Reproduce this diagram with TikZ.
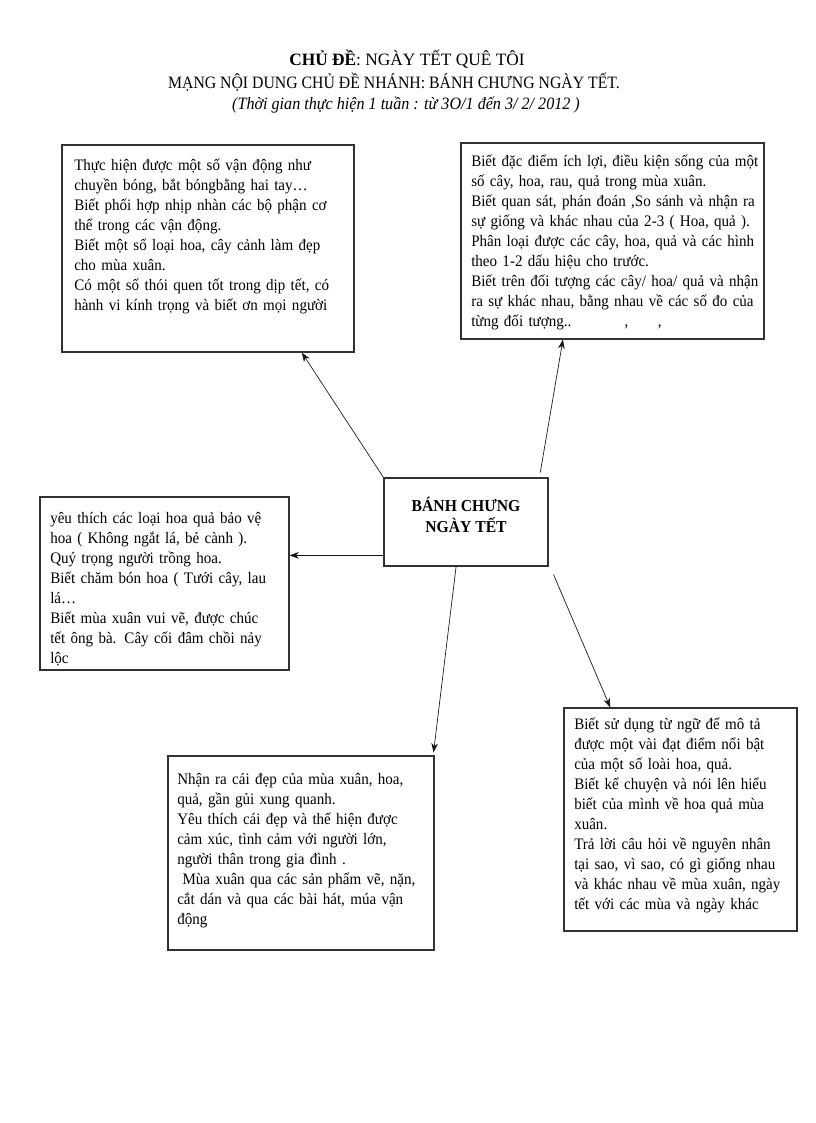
\documentclass[tikz,border=0pt]{standalone}
\usepackage{fontspec}
\setmainfont{Liberation Serif}
\newfontfamily\boxserif[FakeStretch=0.94]{Liberation Serif}
\newfontfamily\narrowserif[FakeStretch=0.91]{Liberation Serif}
\newfontfamily\italicserif[FakeStretch=0.93]{Liberation Serif}
\usepackage{tikz}
\usetikzlibrary{arrows.meta, positioning, calc, fit}
\definecolor{mydark}{RGB}{20,20,20}
\definecolor{myline}{RGB}{50,50,50}
\newcommand{\boxfont}{\boxserif\fontsize{12}{15}\selectfont}
\tikzset{
  infobox/.style={rectangle, draw=myline, line width=0.8pt, inner sep=0pt},
  boxtext/.style={anchor=north west, inner sep=0pt, align=left,
    text width=#1, font=\boxfont},
  hubbox/.style={rectangle, draw=myline, line width=0.8pt, inner sep=0pt,
    align=center, font=\boxserif\fontsize{12.5}{16}\selectfont\bfseries},
  titletext/.style={anchor=base, inner sep=0pt, font=\fontsize{13}{15}\selectfont},
  arrow/.style={-{Stealth[length=7pt, width=5pt]}, line width=0.5pt, color=mydark}
}

\begin{document}
\begin{tikzpicture}[x=0.75pt, y=-0.75pt]
  \useasboundingbox (0,0) rectangle (816,1123);

  % Title
  \node[titletext] (tieude) at (407,66) {\textbf{CHỦ ĐỀ}: NGÀY TẾT QUÊ TÔI};
  \node[titletext, font=\narrowserif\fontsize{13}{15}\selectfont] (nhanh) at (394,89)
    {MẠNG NỘI DUNG CHỦ ĐỀ NHÁNH: BÁNH CHƯNG NGÀY TẾT.};
  \node[titletext, font=\italicserif\fontsize{13}{15}\selectfont\itshape] (thoigian) at (406,110)
    {(Thời gian thực hiện 1 tuần : từ 3O/1 đến 3/ 2/ 2012 )};

  % Hub
  \node[hubbox, fit={(384,478) (548,566)}] (chude) {BÁNH CHƯNG\\NGÀY TẾT};

  % Boxes
  \node[infobox, fit={(62,145) (354,352)}] (thechat) {};
  \node[boxtext=280pt] (txtthechat) at (74,159) {Thực hiện được một số vận động như\\
    chuyền bóng, bắt bóngbằng hai tay…\\
    Biết phối hợp nhịp nhàn các bộ phận cơ\\
    thể trong các vận động.\\
    Biết một số loại hoa, cây cảnh làm đẹp\\
    cho mùa xuân.\\
    Có một số thói quen tốt trong dịp tết, có\\
    hành vi kính trọng và biết ơn mọi người};

  \node[infobox, fit={(461,143) (764,339)}] (nhanthuc) {};
  \node[boxtext=290pt] (txtnhanthuc) at (471,155) {Biết đặc điểm ích lợi, điều kiện sống của một\\
    số cây, hoa, rau, quả trong mùa xuân.\\
    Biết quan sát, phán đoán ,So sánh và nhận ra\\
    sự giống và khác nhau của 2-3 ( Hoa, quả ).\\
    Phân loại được các cây, hoa, quả và các hình\\
    theo 1-2 dấu hiệu cho trước.\\
    Biết trên đối tượng các cây/ hoa/ quả và nhận\\
    ra sự khác nhau, bằng nhau về các số đo của\\
    từng đối tượng..\hspace{40pt},\hspace{22pt},};

  \node[infobox, fit={(40,497) (289,670)}] (tinhcam) {};
  \node[boxtext=240pt] (txttinhcam) at (50,512) {yêu thích các loại hoa quả bảo vệ\\
    hoa ( Không ngắt lá, bẻ cành ).\\
    Quý trọng người trồng hoa.\\
    Biết chăm bón hoa ( Tưới cây, lau\\
    lá…\\
    Biết mùa xuân vui vẽ, được chúc\\
    tết ông bà. Cây cối đâm chồi nảy\\
    lộc};

  \node[infobox, fit={(168,756) (434,950)}] (thammy) {};
  \node[boxtext=250pt] (txtthammy) at (177,773) {Nhận ra cái đẹp của mùa xuân, hoa,\\
    quả, gần gủi xung quanh.\\
    Yêu thích cái đẹp và thể hiện được\\
    cảm xúc, tình cảm với người lớn,\\
    người thân trong gia đình .\\
    \ Mùa xuân qua các sản phẩm vẽ, nặn,\\
    cắt dán và qua các bài hát, múa vận\\
    động};

  \node[infobox, fit={(564,708) (797,931)}] (ngonngu) {};
  \node[boxtext=220pt] (txtngonngu) at (574,718) {Biết sử dụng từ ngữ để mô tả\\
    được một vài đạt điểm nổi bật\\
    của một số loài hoa, quả.\\
    Biết kể chuyện và nói lên hiểu\\
    biết của mình về hoa quả mùa\\
    xuân.\\
    Trả lời câu hỏi về nguyên nhân\\
    tại sao, vì sao, có gì giống nhau\\
    và khác nhau về mùa xuân, ngày\\
    tết với các mùa và ngày khác};

  % Arrows
  \coordinate (lft) at ($(chude.north west)!0.875!(chude.south west)$);
  \draw[arrow] (chude.north west) -- ($(thechat.south west)!0.82!(thechat.south east)$);
  \draw[arrow] ($(chude.north west)!0.95!(chude.north east)+(0,-5)$) -- ($(nhanthuc.south west)!0.337!(nhanthuc.south east)$);
  \draw[arrow] (lft) -- (lft -| tinhcam.east);
  \draw[arrow] ($(chude.south west)!0.44!(chude.south east)$) -- ($(thammy.north east)+(-1,-3)$);
  \draw[arrow] ($(chude.south east)+(5,8)$) -- ($(ngonngu.north west)!0.2!(ngonngu.north east)$);
\end{tikzpicture}
\end{document}
